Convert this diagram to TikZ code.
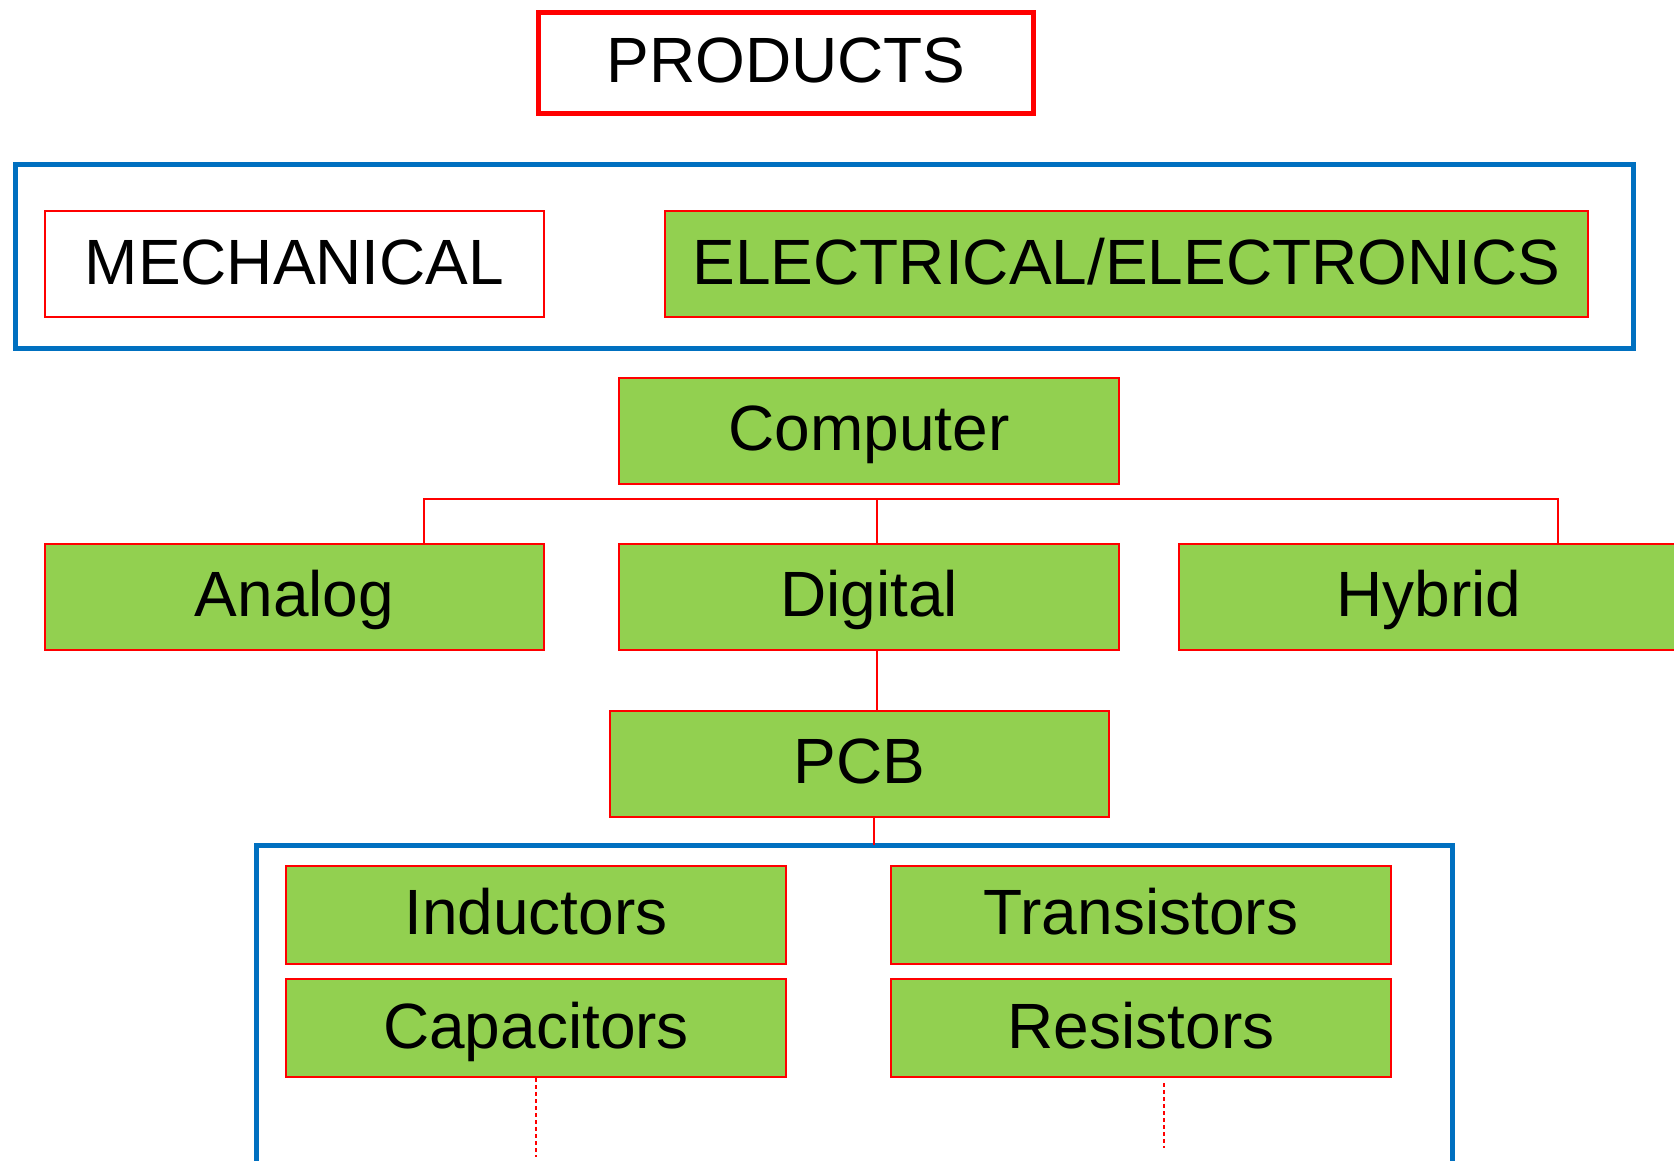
\documentclass[tikz,border=0pt]{standalone}
\usepackage{fontspec}
\setmainfont{Liberation Sans}
\definecolor{boxgreen}{HTML}{92D050}
\definecolor{boxred}{HTML}{FF0000}
\definecolor{frameblue}{HTML}{0070C0}
\tikzset{
  label font/.style={font=\fontsize{64}{70}\selectfont, text height=40pt, text depth=0pt, inner sep=0pt},
  greenbox/.style={label font, draw=boxred, line width=2pt, fill=boxgreen, minimum width=#1, minimum height=106pt},
  greenbox/.default=500pt,
  whitebox/.style={label font, draw=boxred, line width=2pt, fill=white, minimum width=499pt, minimum height=106pt},
  titlebox/.style={label font, draw=boxred, line width=5pt, fill=white, minimum width=495pt, minimum height=101pt},
  partbox/.style={label font, draw=boxred, line width=2pt, fill=boxgreen, minimum width=500pt, minimum height=98pt},
  frame/.style={draw=frameblue, line width=5pt},
  link/.style={draw=boxred, line width=2pt},
  dotlink/.style={draw=boxred, line width=2pt, dash pattern=on 4pt off 3pt},
}
\begin{document}
\begin{tikzpicture}[x=1pt,y=-1pt]
  \useasboundingbox (0,0) rectangle (1674,1161);
  \clip (0,0) rectangle (1674,1161);

  % top title
  \node[titlebox] (products) at (786,63) {PRODUCTS};

  % product families
  \draw[frame] (15,165) rectangle (1633,348);
  \node[whitebox] (mech) at (294.5,264) {MECHANICAL};
  \node[greenbox=923pt] (elec) at (1126.5,264) {ELECTRICAL/ELECTRONICS};

  % computer types
  \node[greenbox] (computer) at (869,430.5) {Computer};
  \node[greenbox=499pt] (analog) at (294.5,596.5) {Analog};
  \node[greenbox] (digital) at (869,596.5) {Digital};
  \node[greenbox] (hybrid) at (1429,596.5) {Hybrid};

  \coordinate (busL) at (424,499);
  \coordinate (busM) at (877,499);
  \coordinate (busR) at (1558,499);
  \draw[link] (analog.north -| busL) -- (busL) -- (busR) -- (hybrid.north -| busR);
  \draw[link] (busM) -- (digital.north -| busM);

  % board level
  \node[greenbox=499pt] (pcb) at (859.5,763.5) {PCB};
  \draw[link] (digital.south -| busM) -- (pcb.north -| busM);

  % components
  \draw[frame] (256,1200) -- (256,845) -- (1452,845) -- (1452,1200);
  \coordinate (frameTop) at (874,845);
  \draw[link] (pcb.south -| frameTop) -- (frameTop);

  \node[partbox] (inductors) at (536,914.5) {Inductors};
  \node[partbox] (capacitors) at (536,1028) {Capacitors};
  \node[partbox] (transistors) at (1141,914.5) {Transistors};
  \node[partbox] (resistors) at (1141,1028) {Resistors};

  \coordinate (capEnd) at (536,1157);
  \coordinate (resEnd) at (1164,1148);
  \draw[dotlink] (capacitors.south) -- (capEnd);
  \draw[dotlink] ([yshift=-5pt]resistors.south -| resEnd) -- (resEnd);
\end{tikzpicture}
\end{document}
